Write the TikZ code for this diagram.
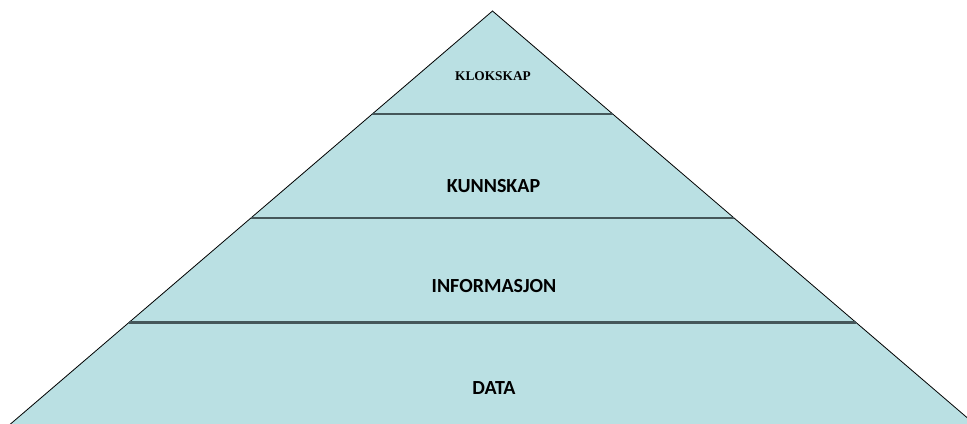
\documentclass[tikz,border=0pt]{standalone}
\usepackage{fontspec}
\setmainfont{Carlito}
\newfontfamily\serifbold{Liberation Serif}
\definecolor{pyrfill}{HTML}{BAE0E3}
\definecolor{pyrline}{HTML}{45575A}

\begin{document}
\begin{tikzpicture}[x=0.75pt,y=-0.75pt,
  level/.style={font=\fontsize{15}{18}\selectfont\bfseries},
  divider/.style={draw=pyrline,line width=2.2pt}]
\useasboundingbox (0,0) rectangle (967,424);
\clip (0,0) rectangle (967,424);
  % Draw the pyramid
  \coordinate (apex) at (492.5,11);
  \coordinate (baseL) at (3.5,430);
  \coordinate (baseR) at (981.5,430);
  \filldraw[fill=pyrfill,draw=black,line width=0.6pt] (apex) -- (baseL) -- (baseR) -- cycle;
  % Draw dividing lines
  \foreach \y/\hw/\name in {114/120.2/a,218/241.6/b,322.5/363.5/c}
    \draw[divider] (492.5-\hw,\y) coordinate (\name L) -- (492.5+\hw,\y) coordinate (\name R);
  % Draw level labels
  \node[font=\serifbold\fontsize{10}{12}\selectfont\bfseries] (klokskap) at (493,76) {KLOKSKAP};
  \node[level] (kunnskap) at (493.5,186) {KUNNSKAP};
  \node[level] (informasjon) at (494,286) {INFORMASJON};
  \node[level] (data) at (494,388) {DATA};
\end{tikzpicture}
\end{document}
